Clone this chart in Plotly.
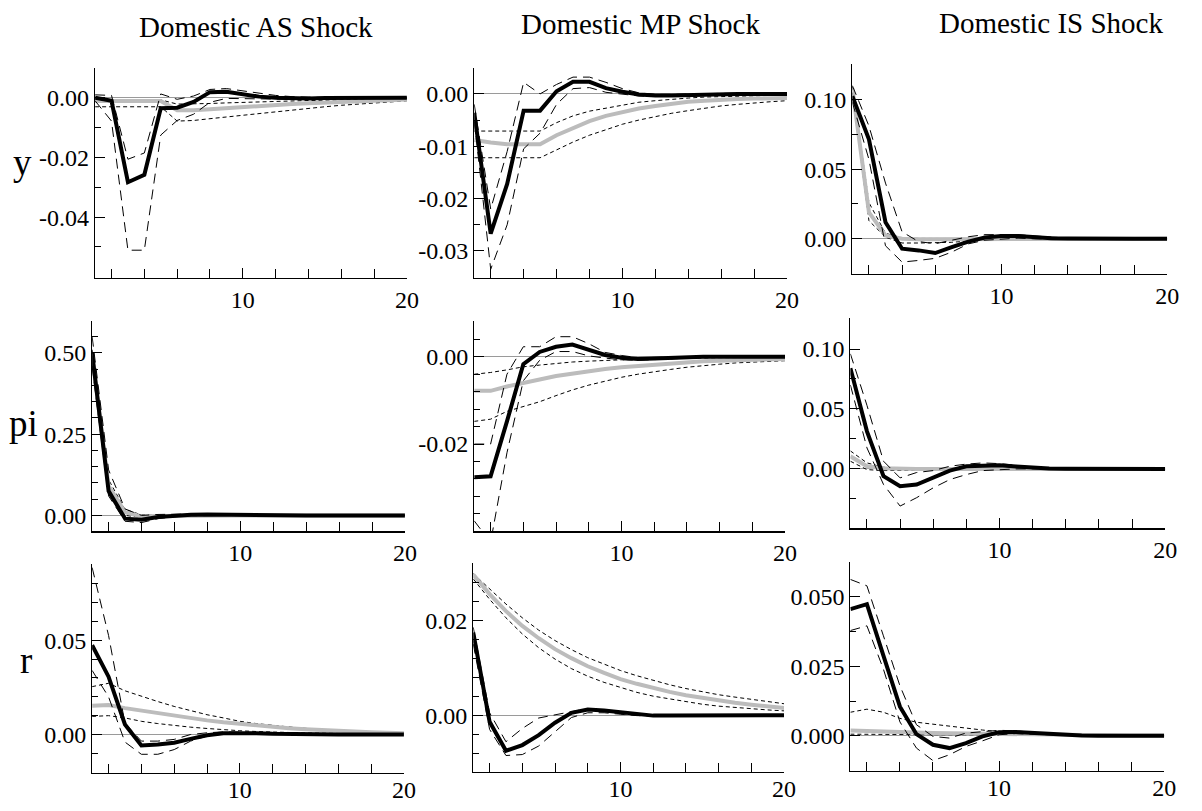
import plotly.graph_objects as go

# figure fits exactly inside the page together with the browser's default 8px body margin
OFF = 8
W, H = 1202 - 2 * OFF, 811 - 2 * OFF
t = list(range(1, 21))

# ---------------- data: rows y, pi, r ; columns AS, MP, IS ----------------
y_as_black = [0.0, -0.001, -0.0283, -0.0258, -0.0035, -0.0033, -0.0014, 0.0019, 0.002, 0.0012, 0.0004, 0.0, -0.0002, -0.0002, -0.0001, -0.0001, 0.0, 0.0, 0.0, 0.0]
y_as_black_hi = [0.001, 0.0008, -0.0206, -0.0185, 0.0013, -0.0005, 0.0006, 0.0028, 0.0031, 0.0024, 0.0015, 0.0008, 0.0004, 0.0002, 0.0001, 0.0001, 0.0001, 0.0001, 0.0, 0.0]
y_as_black_lo = [-0.001, -0.0078, -0.0511, -0.0511, -0.0125, -0.0076, -0.0055, -0.0015, -0.0002, -0.0003, -0.0005, -0.0005, -0.0005, -0.0004, -0.0003, -0.0003, -0.0002, -0.0002, -0.0001, -0.0001]
y_as_gray = [-0.0011, -0.0011, -0.0011, -0.0011, -0.0011, -0.0042, -0.0042, -0.0038, -0.0034, -0.003, -0.0027, -0.0024, -0.0021, -0.0018, -0.0016, -0.0014, -0.0012, -0.001, -0.0008, -0.0006]
y_as_gray_hi = [-0.0007, -0.0007, -0.0007, -0.0007, -0.0007, -0.0021, -0.0021, -0.0019, -0.0017, -0.0015, -0.0013, -0.0012, -0.001, -0.0009, -0.0008, -0.0007, -0.0006, -0.0005, -0.0004, -0.0003]
y_as_gray_lo = [-0.003, -0.003, -0.003, -0.003, -0.003, -0.0078, -0.0076, -0.007, -0.0064, -0.0058, -0.0052, -0.0046, -0.004, -0.0035, -0.003, -0.0025, -0.0021, -0.0017, -0.0013, -0.001]

y_mp_black = [-0.0036, -0.0267, -0.0172, -0.0032, -0.0032, 0.0005, 0.0023, 0.0023, 0.0011, 0.0004, -0.0001, -0.0003, -0.0003, -0.0002, -0.0001, 0.0, 0.0, 0.0, 0.0, 0.0]
y_mp_black_hi = [-0.002, -0.022, -0.011, 0.0022, 0.0, 0.0018, 0.0032, 0.0032, 0.0022, 0.001, 0.0002, -0.0001, -0.0001, 0.0, 0.0, 0.0001, 0.0001, 0.0, 0.0, 0.0]
y_mp_black_lo = [-0.005, -0.0335, -0.025, -0.0105, -0.0075, -0.002, 0.001, 0.0012, 0.0003, 0.0, -0.0004, -0.0005, -0.0005, -0.0004, -0.0003, -0.0002, -0.0001, -0.0001, 0.0, 0.0]
y_mp_gray = [-0.0088, -0.0093, -0.0096, -0.0096, -0.0096, -0.0079, -0.0065, -0.0052, -0.0042, -0.0035, -0.0028, -0.0023, -0.0019, -0.0015, -0.0013, -0.0011, -0.001, -0.0009, -0.0008, -0.0008]
y_mp_gray_hi = [-0.0071, -0.0071, -0.0071, -0.0071, -0.0071, -0.0055, -0.0042, -0.0033, -0.0027, -0.0021, -0.0016, -0.0013, -0.001, -0.0008, -0.0006, -0.0005, -0.0004, -0.0004, -0.0003, -0.0003]
y_mp_gray_lo = [-0.0122, -0.0122, -0.0122, -0.0122, -0.0122, -0.0107, -0.0092, -0.0079, -0.0068, -0.0058, -0.005, -0.0043, -0.0037, -0.0032, -0.0027, -0.0023, -0.002, -0.0017, -0.0015, -0.0013]

y_is_black = [0.1024, 0.0714, 0.0119, -0.0071, -0.0083, -0.0102, -0.006, -0.002, 0.001, 0.002, 0.002, 0.001, 0.0005, 0.0002, 0.0, 0.0, 0.0, 0.0, 0.0, 0.0]
y_is_black_hi = [0.11, 0.081, 0.04, 0.005, -0.002, -0.0035, -0.001, 0.0015, 0.003, 0.0032, 0.003, 0.002, 0.0012, 0.0006, 0.0003, 0.0001, 0.0, 0.0, 0.0, 0.0]
y_is_black_lo = [0.098, 0.057, -0.005, -0.0167, -0.0155, -0.014, -0.0095, -0.0036, -0.001, 0.0, 0.0005, 0.0, -0.0002, -0.0002, -0.0001, 0.0, 0.0, 0.0, 0.0, 0.0]
y_is_gray = [0.108, 0.019, 0.0024, 0.0, -0.0003, -0.0003, -0.0002, -0.0001, 0.0, 0.0, 0.0, 0.0, 0.0, 0.0, 0.0, 0.0, 0.0, 0.0, 0.0, 0.0]
y_is_gray_hi = [0.1095, 0.026, 0.004, 0.0007, 0.0003, 0.0002, 0.0001, 0.0001, 0.0, 0.0, 0.0, 0.0, 0.0, 0.0, 0.0, 0.0, 0.0, 0.0, 0.0, 0.0]
y_is_gray_lo = [0.105, 0.013, 0.0012, -0.003, -0.003, -0.003, -0.0025, -0.0015, -0.0008, -0.0005, -0.0004, -0.0003, -0.0002, -0.0002, -0.0001, -0.0001, -0.0001, 0.0, 0.0, 0.0]

pi_as_black = [0.5, 0.075, -0.01, -0.013, -0.005, -0.001, 0.002, 0.003, 0.002, 0.001, 0.0005, 0.0, 0.0, 0.0, 0.0, 0.0, 0.0, 0.0, 0.0, 0.0]
pi_as_black_hi = [0.55, 0.14, 0.02, 0.0, 0.003, 0.004, 0.005, 0.005, 0.004, 0.003, 0.002, 0.001, 0.0005, 0.0, 0.0, 0.0, 0.0, 0.0, 0.0, 0.0]
pi_as_black_lo = [0.46, 0.06, -0.018, -0.022, -0.01, -0.004, -0.001, 0.0, 0.0, -0.0005, -0.0005, -0.0005, 0.0, 0.0, 0.0, 0.0, 0.0, 0.0, 0.0, 0.0]
pi_as_gray = [0.49, 0.09, 0.01, -0.003, -0.002, -0.001, 0.0, 0.0, 0.0, 0.0, 0.0, 0.0, 0.0, 0.0, 0.0, 0.0, 0.0, 0.0, 0.0, 0.0]
pi_as_gray_hi = [0.51, 0.11, 0.018, 0.002, 0.0, 0.0, 0.0, 0.0, 0.0, 0.0, 0.0, 0.0, 0.0, 0.0, 0.0, 0.0, 0.0, 0.0, 0.0, 0.0]
pi_as_gray_lo = [0.47, 0.07, 0.0, -0.006, -0.004, -0.002, -0.001, -0.001, -0.001, -0.001, -0.001, -0.001, -0.001, -0.001, -0.001, -0.001, -0.001, -0.001, -0.001, -0.001]

pi_mp_black = [-0.0276, -0.0274, -0.0148, -0.0017, 0.0011, 0.0023, 0.0028, 0.0015, 0.0004, -0.0002, -0.0005, -0.0004, -0.0002, -0.0001, 0.0, 0.0, 0.0, 0.0, 0.0, 0.0]
pi_mp_black_hi = [-0.02, -0.02, -0.004, 0.0023, 0.0023, 0.0046, 0.0046, 0.003, 0.001, 0.0003, -0.0002, -0.0002, -0.0001, 0.0, 0.0001, 0.0001, 0.0, 0.0, 0.0, 0.0]
pi_mp_black_lo = [-0.0376, -0.0425, -0.022, -0.0055, -0.0008, 0.0012, 0.0012, 0.0002, -0.0003, -0.0007, -0.0008, -0.0007, -0.0005, -0.0003, -0.0002, -0.0001, -0.0001, 0.0, 0.0, 0.0]
pi_mp_gray = [-0.0078, -0.0078, -0.0068, -0.0059, -0.0052, -0.0044, -0.0038, -0.0033, -0.0028, -0.0024, -0.0021, -0.0017, -0.0014, -0.0012, -0.001, -0.0009, -0.0008, -0.0007, -0.0006, -0.0005]
pi_mp_gray_hi = [-0.004, -0.0036, -0.003, -0.0023, -0.0019, -0.0015, -0.0012, -0.001, -0.0008, -0.0007, -0.0006, -0.0005, -0.0004, -0.0003, -0.0003, -0.0002, -0.0002, -0.0002, -0.0002, -0.0002]
pi_mp_gray_lo = [-0.0148, -0.0143, -0.0125, -0.0114, -0.0103, -0.0089, -0.0076, -0.0065, -0.0056, -0.0047, -0.004, -0.0034, -0.0029, -0.0024, -0.002, -0.0017, -0.0014, -0.0012, -0.001, -0.0009]

pi_is_black = [0.084, 0.0313, -0.006, -0.0144, -0.013, -0.0075, -0.0014, 0.0022, 0.003, 0.003, 0.002, 0.0008, 0.0003, 0.0001, 0.0, 0.0, 0.0, 0.0, 0.0, 0.0]
pi_is_black_hi = [0.096, 0.053, 0.0064, -0.0075, -0.003, -0.0014, 0.0022, 0.004, 0.005, 0.0044, 0.003, 0.0015, 0.0007, 0.0003, 0.0001, 0.0, 0.0, 0.0, 0.0, 0.0]
pi_is_black_lo = [0.07, 0.0175, -0.013, -0.031, -0.024, -0.0158, -0.0089, -0.0047, -0.0014, -0.0005, 0.0, 0.0, -0.0001, -0.0001, 0.0, 0.0, 0.0, 0.0, 0.0, 0.0]
pi_is_gray = [0.0105, 0.0022, 0.0005, 0.0, 0.0, 0.0, 0.0, 0.0, 0.0, 0.0, 0.0, 0.0, 0.0, 0.0, 0.0, 0.0, 0.0, 0.0, 0.0, 0.0]
pi_is_gray_hi = [0.015, 0.005, 0.0014, 0.0005, 0.0003, 0.0002, 0.0001, 0.0001, 0.0, 0.0, 0.0, 0.0, 0.0, 0.0, 0.0, 0.0, 0.0, 0.0, 0.0, 0.0]
pi_is_gray_lo = [0.0064, -0.0006, -0.0014, -0.0014, -0.0013, -0.0012, -0.0011, -0.001, -0.0009, -0.0008, -0.0008, -0.0007, -0.0007, -0.0006, -0.0006, -0.0005, -0.0005, -0.0005, -0.0004, -0.0004]

r_as_black = [0.0474, 0.0307, 0.0053, -0.0058, -0.0053, -0.0044, -0.0023, -0.0004, 0.0007, 0.0009, 0.0007, 0.0004, 0.0002, 0.0001, 0.0, 0.0, 0.0, 0.0, 0.0, 0.0]
r_as_black_hi = [0.0886, 0.0526, 0.006, -0.0035, -0.0035, -0.0026, 0.0, 0.0009, 0.0014, 0.0014, 0.0011, 0.0008, 0.0005, 0.0003, 0.0002, 0.0001, 0.0001, 0.0, 0.0, 0.0]
r_as_black_lo = [0.034, 0.02, -0.004, -0.0105, -0.0105, -0.008, -0.0035, -0.0008, 0.0002, 0.0005, 0.0004, 0.0002, 0.0, -0.0001, -0.0001, 0.0, 0.0, 0.0, 0.0, 0.0]
r_as_gray = [0.0153, 0.0156, 0.014, 0.0126, 0.0112, 0.01, 0.0088, 0.0075, 0.0065, 0.0056, 0.0047, 0.004, 0.0033, 0.0028, 0.0023, 0.0018, 0.0014, 0.0012, 0.0009, 0.0007]
r_as_gray_hi = [0.0254, 0.0272, 0.0232, 0.0202, 0.0175, 0.0149, 0.0126, 0.0105, 0.0088, 0.007, 0.0058, 0.0048, 0.004, 0.0033, 0.0026, 0.0021, 0.0018, 0.0014, 0.0012, 0.001]
r_as_gray_lo = [0.0096, 0.01, 0.0088, 0.007, 0.0058, 0.0047, 0.0039, 0.0032, 0.0025, 0.002, 0.0016, 0.0012, 0.001, 0.0008, 0.0007, 0.0006, 0.0005, 0.0004, 0.0003, 0.0003]

r_mp_black = [0.0174, -0.0014, -0.0075, -0.0063, -0.0042, -0.0016, 0.0005, 0.0012, 0.001, 0.0006, 0.0001, -0.0001, -0.0001, -0.0001, 0.0, 0.0, 0.0, 0.0, 0.0, 0.0]
r_mp_black_hi = [0.0185, 0.0005, -0.0056, -0.0028, -0.0006, 0.0001, 0.0008, 0.0014, 0.0008, 0.0003, 0.0, 0.0, 0.0, 0.0, 0.0, 0.0, 0.0, 0.0, 0.0, 0.0]
r_mp_black_lo = [0.015, -0.003, -0.0085, -0.0083, -0.0065, -0.0035, -0.0005, 0.0005, 0.0005, 0.0002, -0.0001, -0.0002, -0.0002, -0.0001, 0.0, 0.0, 0.0, 0.0, 0.0, 0.0]
r_mp_gray = [0.0296, 0.0255, 0.0219, 0.0188, 0.0162, 0.0139, 0.012, 0.0103, 0.0089, 0.0076, 0.0066, 0.0057, 0.0049, 0.0042, 0.0036, 0.0031, 0.0026, 0.0022, 0.0018, 0.0015]
r_mp_gray_hi = [0.0298, 0.0265, 0.0234, 0.0205, 0.0179, 0.0157, 0.0138, 0.0121, 0.0107, 0.0094, 0.0083, 0.0073, 0.0064, 0.0056, 0.0049, 0.0043, 0.0038, 0.0033, 0.0028, 0.0024]
r_mp_gray_lo = [0.0287, 0.0244, 0.0205, 0.0171, 0.0142, 0.0118, 0.0098, 0.0082, 0.0069, 0.0058, 0.0048, 0.004, 0.0034, 0.0028, 0.0023, 0.0019, 0.0016, 0.0013, 0.0011, 0.0009]

r_is_black = [0.0456, 0.0474, 0.0289, 0.0105, 0.0006, -0.0032, -0.0044, -0.0026, -0.0002, 0.0013, 0.0014, 0.001, 0.0006, 0.0003, 0.0001, 0.0, 0.0, 0.0, 0.0, 0.0]
r_is_black_hi = [0.0563, 0.054, 0.036, 0.018, 0.004, -0.0002, -0.0008, 0.001, 0.0015, 0.002, 0.0018, 0.0013, 0.0008, 0.0004, 0.0002, 0.0001, 0.0, 0.0, 0.0, 0.0]
r_is_black_lo = [0.0379, 0.0396, 0.024, 0.005, -0.0044, -0.0089, -0.0068, -0.0038, -0.0018, 0.0004, 0.0008, 0.0006, 0.0003, 0.0001, 0.0, 0.0, 0.0, 0.0, 0.0, 0.0]
r_is_gray = [0.0019, 0.0018, 0.0016, 0.0014, 0.0012, 0.001, 0.0009, 0.0008, 0.0007, 0.0006, 0.0005, 0.0004, 0.0003, 0.0003, 0.0002, 0.0002, 0.0001, 0.0001, 0.0001, 0.0001]
r_is_gray_hi = [0.0085, 0.0096, 0.0085, 0.0063, 0.0049, 0.0042, 0.0033, 0.0027, 0.0021, 0.0015, 0.0011, 0.0008, 0.0006, 0.0004, 0.0003, 0.0002, 0.0002, 0.0001, 0.0001, 0.0001]
r_is_gray_lo = [0.0006, 0.0006, 0.0005, 0.0005, 0.0005, 0.0004, 0.0004, 0.0003, 0.0003, 0.0002, 0.0002, 0.0002, 0.0001, 0.0001, 0.0001, 0.0, 0.0, 0.0, 0.0, 0.0]

col_titles = ["Domestic AS Shock", "Domestic MP Shock", "Domestic IS Shock"]
row_labels = ["y", "pi", "r"]

x_tickvals = [10, 20]
x_ticktext = ["10", "20"]
x_minor = [2, 4, 6, 8, 12, 14, 16, 18]

# per panel y tick labels
y_ticks = [
    ([0.0, -0.02, -0.04], ["0.00", "-0.02", "-0.04"], [0.01, -0.01, -0.03, -0.05]),
    ([0.0, -0.01, -0.02, -0.03], ["0.00", "-0.01", "-0.02", "-0.03"], [0.005, -0.005, -0.015, -0.025]),
    ([0.0, 0.05, 0.10], ["0.00", "0.05", "0.10"], [0.025, 0.075, 0.125]),
    ([0.0, 0.25, 0.50], ["0.00", "0.25", "0.50"], [0.05, 0.1, 0.15, 0.2, 0.3, 0.35, 0.4, 0.45, 0.55]),
    ([0.0, -0.02], ["0.00", "-0.02"], [0.008, 0.004, -0.004, -0.008, -0.012, -0.016, -0.024, -0.028, -0.032, -0.036]),
    ([0.0, 0.05, 0.10], ["0.00", "0.05", "0.10"], [-0.025, 0.025, 0.075, 0.125]),
    ([0.0, 0.05], ["0.00", "0.05"], [-0.01, 0.01, 0.02, 0.03, 0.04, 0.06, 0.07, 0.08, 0.09]),
    ([0.0, 0.02], ["0.00", "0.02"], [-0.012, -0.008, -0.004, 0.004, 0.008, 0.012, 0.016, 0.024, 0.028, 0.032]),
    ([0.0, 0.025, 0.05], ["0.000", "0.025", "0.050"], [-0.0125, 0.0125, 0.0375, 0.0625]),
]
y_ranges = [
    [-0.0603, 0.0101], [-0.0351, 0.0050], [-0.0250, 0.1257],
    [-0.049, 0.597], [-0.0400, 0.0081], [-0.0496, 0.1255],
    [-0.0205, 0.0904], [-0.0120, 0.0320], [-0.0127, 0.0625],
]

panels = [
    (y_as_black, y_as_black_hi, y_as_black_lo, y_as_gray, y_as_gray_hi, y_as_gray_lo),
    (y_mp_black, y_mp_black_hi, y_mp_black_lo, y_mp_gray, y_mp_gray_hi, y_mp_gray_lo),
    (y_is_black, y_is_black_hi, y_is_black_lo, y_is_gray, y_is_gray_hi, y_is_gray_lo),
    (pi_as_black, pi_as_black_hi, pi_as_black_lo, pi_as_gray, pi_as_gray_hi, pi_as_gray_lo),
    (pi_mp_black, pi_mp_black_hi, pi_mp_black_lo, pi_mp_gray, pi_mp_gray_hi, pi_mp_gray_lo),
    (pi_is_black, pi_is_black_hi, pi_is_black_lo, pi_is_gray, pi_is_gray_hi, pi_is_gray_lo),
    (r_as_black, r_as_black_hi, r_as_black_lo, r_as_gray, r_as_gray_hi, r_as_gray_lo),
    (r_mp_black, r_mp_black_hi, r_mp_black_lo, r_mp_gray, r_mp_gray_hi, r_mp_gray_lo),
    (r_is_black, r_is_black_hi, r_is_black_lo, r_is_gray, r_is_gray_hi, r_is_gray_lo),
]

# panel boxes in page pixels (left, right, top, bottom)
boxes = [
    (96, 411, 68, 279), (479, 795, 68, 279), (861, 1179, 64, 275),
    (93, 409, 323, 534), (479, 793, 323, 534), (859, 1177, 320, 531),
    (93, 408, 567, 777), (478, 792, 566, 776), (859, 1176, 565, 775),
]

FONT = "Liberation Serif, Times New Roman, serif"
GRAY = "#bcbcbc"


def px_x(p):
    return (p - OFF) / W


def px_y(p):
    return 1 - (p - OFF) / H


fig = go.Figure()
layout = dict(
    width=W, height=H, margin=dict(l=0, r=0, t=0, b=0),
    paper_bgcolor="white", plot_bgcolor="white", showlegend=False,
    font=dict(family=FONT, size=24, color="black"), hovermode=False,
)

for i, (data, box, yr, yt) in enumerate(zip(panels, boxes, y_ranges, y_ticks)):
    k = i + 1
    xa = "x" if k == 1 else f"x{k}"
    ya = "y" if k == 1 else f"y{k}"
    black, bhi, blo, gray, ghi, glo = data
    for s in (ghi, glo):
        fig.add_trace(go.Scatter(x=t, y=s, mode="lines", xaxis=xa, yaxis=ya, hoverinfo="skip",
                                 line=dict(color="black", width=1, dash="4px,3px")))
    fig.add_trace(go.Scatter(x=t, y=gray, mode="lines", xaxis=xa, yaxis=ya, hoverinfo="skip",
                             line=dict(color=GRAY, width=4)))
    for s in (bhi, blo):
        fig.add_trace(go.Scatter(x=t, y=s, mode="lines", xaxis=xa, yaxis=ya, hoverinfo="skip",
                                 line=dict(color="black", width=1, dash="10px,6px")))
    fig.add_trace(go.Scatter(x=t, y=black, mode="lines", xaxis=xa, yaxis=ya, hoverinfo="skip",
                             line=dict(color="black", width=4)))
    l, r, tp, bt = box
    xkey = "xaxis" if k == 1 else f"xaxis{k}"
    ykey = "yaxis" if k == 1 else f"yaxis{k}"
    layout[xkey] = dict(
        domain=[px_x(l), px_x(r)], anchor=ya, range=[1, 20],
        showline=True, linecolor="black", linewidth=1.2, showgrid=False, zeroline=False,
        ticks="inside", ticklen=10, tickcolor="black", tickwidth=1,
        tickvals=x_tickvals, ticktext=x_ticktext,
        ticklabelstandoff=(-5 if k >= 7 else 0),
        minor=dict(tickvals=x_minor, ticks="inside", ticklen=9, tickcolor="black", tickwidth=1, showgrid=False),
        tickfont=dict(family=FONT, size=24), fixedrange=True,
    )
    tv, tt, mv = yt
    layout[ykey] = dict(
        domain=[px_y(bt), px_y(tp)], anchor=xa, range=yr,
        showline=True, linecolor="black", linewidth=1.2, showgrid=False,
        zeroline=True, zerolinecolor="#9a9a9a", zerolinewidth=1,
        ticks="inside", ticklen=10, tickcolor="black", tickwidth=1,
        tickvals=tv, ticktext=tt,
        minor=dict(tickvals=mv, ticks="inside", ticklen=6, tickcolor="black", tickwidth=1, showgrid=False),
        tickfont=dict(family=FONT, size=24), fixedrange=True,
    )

annotations = []
title_pos = [(259, 27), (647, 24), (1062, 23)]
for txt, (px, py) in zip(col_titles, title_pos):
    annotations.append(dict(text=txt, x=px_x(px), y=px_y(py), xref="paper", yref="paper",
                            xanchor="center", yanchor="middle", showarrow=False,
                            font=dict(family=FONT, size=29, color="black")))
label_pos = [(23, 163), (24, 426), (26, 664)]
for txt, (px, py) in zip(row_labels, label_pos):
    annotations.append(dict(text=txt, x=px_x(px), y=px_y(py), xref="paper", yref="paper",
                            xanchor="center", yanchor="middle", showarrow=False,
                            font=dict(family=FONT, size=37, color="black")))
layout["annotations"] = annotations

fig.update_layout(**layout)
fig.write_html("out.html", config={"displayModeBar": False, "staticPlot": True})
